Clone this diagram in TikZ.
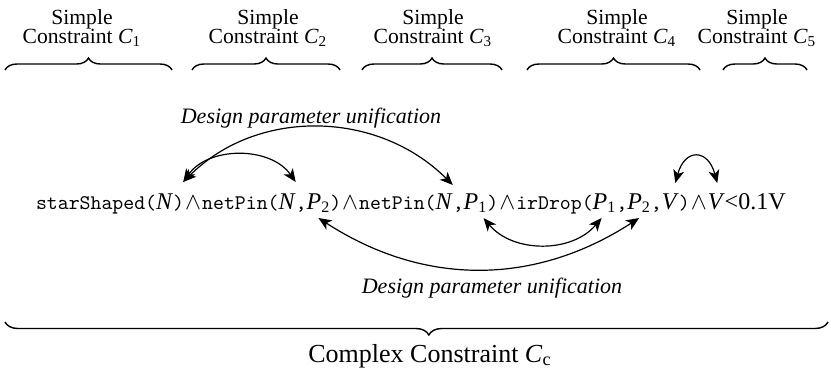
\documentclass[tikz,border=0pt]{standalone}
\usepackage{fontspec}
\setmainfont{Liberation Serif}
\usetikzlibrary{arrows.meta,calc,decorations.pathreplacing}
\newcommand{\codetxt}[1]{{\fontsize{10.4}{14}\ttfamily #1}}
\newcommand{\andop}{\kern0.5pt$\wedge$\kern0.5pt}

\begin{document}
\begin{tikzpicture}[x=0.5pt,y=0.5pt,>={Stealth[length=6.5pt,width=5.5pt,inset=1.8pt]},
    lbl/.style={inner sep=0pt,align=center,font=\fontsize{10.8}{9.6}\selectfont},
    uni/.style={inner sep=0pt,anchor=base,font=\fontsize{11}{13}\selectfont\itshape},
    tok/.style={inner sep=0pt,outer sep=0pt,anchor=base west,font=\fontsize{12}{14}\selectfont},
    brc/.style={decorate,decoration={brace,amplitude=6pt},line width=0.7pt},
    unif/.style={<->,line width=0.6pt}]
    \useasboundingbox (0,0) rectangle (831,-371);
    % simple constraints
    \node[lbl,anchor=north] (c1) at (82,-9) {Simple\\Constraint \textit{C}\textsubscript{1}};
    \node[lbl,anchor=north] (c2) at (268,-9) {Simple\\Constraint \textit{C}\textsubscript{2}};
    \node[lbl,anchor=north] (c3) at (433,-9) {Simple\\Constraint \textit{C}\textsubscript{3}};
    \node[lbl,anchor=north] (c4) at (617,-9) {Simple\\Constraint \textit{C}\textsubscript{4}};
    \node[lbl,anchor=north] (c5) at (757,-9) {Simple\\Constraint \textit{C}\textsubscript{5}};
    \draw[brc] (5,-70) -- (172,-70);
    \draw[brc] (192,-70) -- (340,-70);
    \draw[brc] (362,-70) -- (502,-70);
    \draw[brc] (527,-70) -- (700,-70);
    \draw[brc] (723,-70) -- (807,-70);
    % the formula
    \node[tok] (t1) at (36,-209) {\codetxt{starShaped(}};
    \node[tok] (nA) at (t1.base east) {\textit{N}};
    \node[tok] (t2) at (nA.base east) {\codetxt{)}\andop\codetxt{netPin(}};
    \node[tok] (nB) at (t2.base east) {\textit{N}};
    \node[tok] (t3) at (nB.base east) {\codetxt{,}};
    \node[tok] (pA) at (t3.base east) {\textit{P}\textsubscript{2}};
    \node[tok] (t4) at (pA.base east) {\codetxt{)}\andop\codetxt{netPin(}};
    \node[tok] (nC) at (t4.base east) {\textit{N}};
    \node[tok] (t5) at (nC.base east) {\codetxt{,}};
    \node[tok] (pB) at (t5.base east) {\textit{P}\textsubscript{1}};
    \node[tok] (t6) at (pB.base east) {\codetxt{)}\andop\codetxt{irDrop(}};
    \node[tok] (pC) at (t6.base east) {\textit{P}\textsubscript{1}};
    \node[tok] (t7) at (pC.base east) {\codetxt{,}};
    \node[tok] (pD) at (t7.base east) {\textit{P}\textsubscript{2}};
    \node[tok] (t8) at (pD.base east) {\codetxt{,}};
    \node[tok] (vA) at (t8.base east) {\textit{V}};
    \node[tok] (t9) at (vA.base east) {\codetxt{)}\andop};
    \node[tok] (vB) at (t9.base east) {\textit{V}};
    \node[tok] (t10) at (vB.base east) {<0.1V};
    % unification arrows
    \node[uni] (u1) at (311,-123) {Design parameter unification};
    \node[uni] (u2) at (492,-293) {Design parameter unification};
    \draw[unif] ($(nA.base east)+(10,27)$) to[out=55,in=125] ($(nB.base east)+(0,27)$);
    \draw[unif] ($(nA.base east)+(10,27)$) to[out=45,in=135] ($(nC.base east)+(0,24)$);
    \draw[unif] ($(pB.base)+(8,-9)$) to[out=-50,in=-130] ($(pC.base)+(-3,-9)$);
    \draw[unif] ($(pA.base)+(0,-9)$) to[out=-33,in=-147] ($(pD.base)+(0,-9)$);
    \draw[unif] ($(vA.base)+(5,26)$) to[out=75,in=105,looseness=2.2] ($(vB.base)+(1,26)$);
    % complex constraint
    \draw[brc,decoration={brace,amplitude=6.5pt,aspect=0.485}] (828,-322) -- (5,-322);
    \node[lbl,anchor=base,font=\fontsize{13}{15}\selectfont] (cc) at (430,-362) {Complex Constraint \textit{C}\textsubscript{c}};
\end{tikzpicture}
\end{document}
